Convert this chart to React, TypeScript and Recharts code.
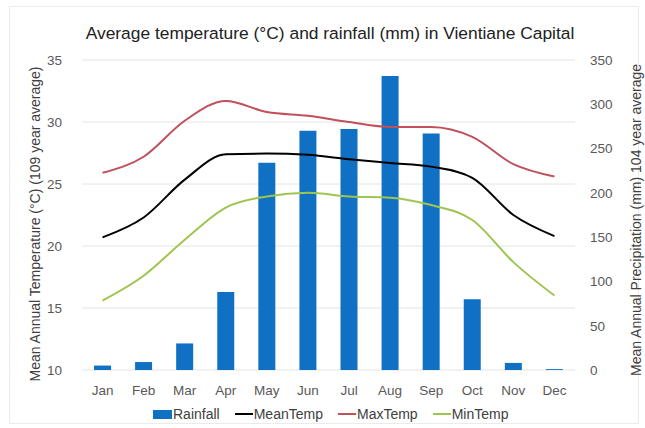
import React from "react";
import { ComposedChart, Bar, Line, XAxis, YAxis, CartesianGrid } from "recharts";

const months = ["Jan", "Feb", "Mar", "Apr", "May", "Jun", "Jul", "Aug", "Sep", "Oct", "Nov", "Dec"];
const rainfall = [5, 9, 30, 88, 234, 270, 272, 332, 267, 80, 8, 1];
const meanTemp = [20.7, 22.3, 25.35, 27.4, 27.45, 27.35, 27.0, 26.7, 26.4, 25.5, 22.5, 20.8];
const maxTemp = [25.9, 27.2, 30.1, 31.7, 30.8, 30.5, 30.0, 29.6, 29.6, 28.8, 26.6, 25.6];
const minTemp = [15.6, 17.6, 20.5, 23.1, 24.0, 24.3, 24.0, 23.9, 23.3, 22.1, 18.7, 16.0];
const tempTicks = [10, 15, 20, 25, 30, 35];
const rainTicks = [0, 50, 100, 150, 200, 250, 300, 350];

const data = months.map((m, i) => ({
  month: m,
  Rainfall: rainfall[i],
  MeanTemp: meanTemp[i],
  MaxTemp: maxTemp[i],
  MinTemp: minTemp[i],
}));

const FONT = "'Liberation Sans', Arial, sans-serif";
const BLUE = "#1070C4";
const RED = "#C0505A";
const GREEN = "#A0C450";
const TICK = { fill: "#595959", fontSize: 13.5, fontFamily: FONT };

const legendItems = [
  { name: "Rainfall", color: BLUE, kind: "rect" },
  { name: "MeanTemp", color: "#000000", kind: "line" },
  { name: "MaxTemp", color: RED, kind: "line" },
  { name: "MinTemp", color: GREEN, kind: "line" },
];

export default function App() {
  return (
    <div style={{ position: "absolute", left: 0, top: 0, width: 645, height: 428, background: "#fff", fontFamily: FONT }}>
      <div style={{ position: "absolute", left: 9, top: 6, width: 630, height: 418, border: "1px solid #EBEBEB", boxSizing: "border-box" }} />
      <div style={{ position: "absolute", left: 0, top: 23, width: 660, textAlign: "center", fontSize: 17.4, color: "#222", lineHeight: "20px" }}>
        Average temperature (°C) and rainfall (mm) in Vientiane Capital
      </div>
      <div style={{ position: "absolute", left: 35, top: 224, width: 0, height: 0 }}>
        <div style={{ position: "absolute", left: 0, top: 0, transform: "translate(-50%, -50%) rotate(-90deg)", whiteSpace: "nowrap", fontSize: 14, color: "#404040" }}>
          Mean Annual Temperature (°C) (109 year average)
        </div>
      </div>
      <div style={{ position: "absolute", left: 636, top: 220, width: 0, height: 0 }}>
        <div style={{ position: "absolute", left: 0, top: 0, transform: "translate(-50%, -50%) rotate(-90deg)", whiteSpace: "nowrap", fontSize: 14, color: "#404040" }}>
          Mean Annual Precipitation (mm) 104 year average
        </div>
      </div>
      <div style={{ position: "absolute", left: 0, top: 0 }}>
        <ComposedChart width={645} height={428} data={data} margin={{ top: 60, right: 0, bottom: 28, left: 0 }}>
          <CartesianGrid vertical={false} stroke="#E4E4E4" yAxisId="temp" />
          <XAxis dataKey="month" height={30} axisLine={false} tickLine={false} tickSize={0} tickMargin={15} tick={TICK} interval={0} />
          <YAxis yAxisId="temp" orientation="left" width={82} domain={[10, 35]} ticks={tempTicks} axisLine={false} tickLine={false} tickSize={0} tickMargin={20} tick={TICK} />
          <YAxis yAxisId="rain" orientation="right" width={70} domain={[0, 350]} ticks={rainTicks} axisLine={false} tickLine={false} tickSize={0} tickMargin={15} tick={{ ...TICK, textAnchor: "start" }} />
          <Bar yAxisId="rain" dataKey="Rainfall" fill={BLUE} barSize={17} isAnimationActive={false} />
          <Line yAxisId="temp" type="monotone" dataKey="MaxTemp" stroke={RED} strokeWidth={2} dot={false} isAnimationActive={false} />
          <Line yAxisId="temp" type="monotone" dataKey="MeanTemp" stroke="#000000" strokeWidth={2} dot={false} isAnimationActive={false} />
          <Line yAxisId="temp" type="monotone" dataKey="MinTemp" stroke={GREEN} strokeWidth={2} dot={false} isAnimationActive={false} />
        </ComposedChart>
      </div>
      <div style={{ position: "absolute", left: 153, top: 406, display: "flex", alignItems: "center", fontSize: 14, color: "#404040", whiteSpace: "nowrap" }}>
        {legendItems.map((it) => (
          <div key={it.name} style={{ display: "flex", alignItems: "center", marginRight: 15 }}>
            {it.kind === "rect" ? (
              <div style={{ width: 19, height: 9, background: it.color, marginRight: 1 }} />
            ) : (
              <div style={{ width: 18, height: 2, background: it.color, marginRight: 1 }} />
            )}
            <span>{it.name}</span>
          </div>
        ))}
      </div>
    </div>
  );
}
